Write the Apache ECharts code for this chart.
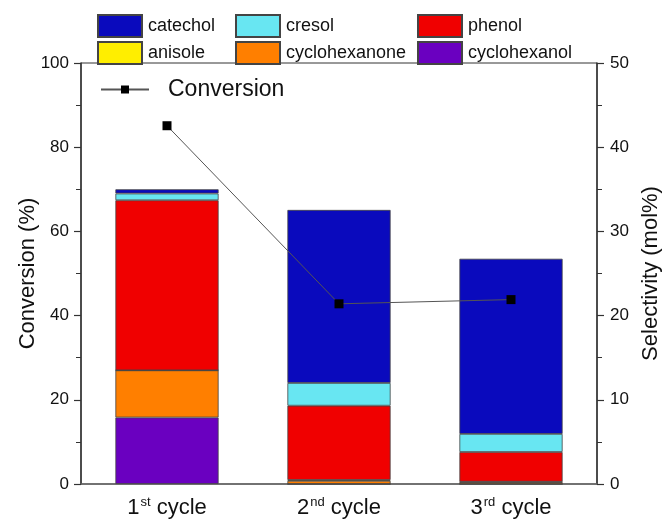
<!DOCTYPE html>
<html>
<head>
<meta charset="utf-8">
<script src="https://cdn.jsdelivr.net/npm/echarts@6/dist/echarts.min.js"></script>
<style>
  html, body { margin: 0; padding: 0; background: #fff; }
  #chart { width: 670px; height: 521px; }
</style>
</head>
<body>
<div id="chart"></div>
<script>
// Reaction cycles
const cycles = ['1st cycle', '2nd cycle', '3rd cycle'];

// Product selectivity (mol%) per cycle
const cyclohexanol  = [7.9, 0, 0];
const cyclohexanone = [5.6, 0.38, 0.22];
const anisole       = [0, 0.1, 0.05];
const phenol        = [20.2, 8.82, 3.53];
const cresol        = [0.8, 2.7, 2.15];
const catechol      = [0.5, 20.55, 20.8];

// Substrate conversion (%) per cycle
const conversion = [85.1, 42.8, 43.8];

// Axis tick labels
const leftTicks  = [0, 20, 40, 60, 80, 100];
const rightTicks = [0, 10, 20, 30, 40, 50];

const font = 'Liberation Sans, Arial, sans-serif';
const ink = '#111';

const chart = echarts.init(document.getElementById('chart'), null, { renderer: 'canvas' });

function barSeries(name, data, color) {
  return {
    name, type: 'bar', stack: 'sel', yAxisIndex: 1, data,
    barWidth: '60%',
    itemStyle: { color, borderColor: '#444', borderWidth: 0.8 },
    emphasis: { disabled: true }
  };
}

const legendText = { fontFamily: font, fontSize: 18, color: ink, padding: [0, 0, 0, 1] };
function productLegend(names, left) {
  return {
    data: names, orient: 'vertical', left, top: 14, padding: 0,
    itemWidth: 44, itemHeight: 22, itemGap: 3,
    textStyle: legendText, icon: 'rect', selectedMode: false
  };
}

chart.setOption({
  animation: false,
  backgroundColor: '#fff',
  grid: { left: 81, right: 72, top: 63, bottom: 37, show: true, borderColor: '#333', borderWidth: 1 },
  legend: [
    productLegend(['catechol', 'anisole'], 97),
    productLegend(['cresol', 'cyclohexanone'], 235),
    productLegend(['phenol', 'cyclohexanol'], 417),
    {
      data: ['Conversion'],
      left: 100, top: 78, padding: 0, itemWidth: 48, itemHeight: 10, selectedMode: false,
      textStyle: { fontFamily: font, fontSize: 23, color: ink, padding: [0, 0, 0, 14] }
    }
  ],
  xAxis: {
    type: 'category', data: cycles,
    axisLine: { lineStyle: { color: '#666', width: 1.5 } },
    axisTick: { show: false },
    axisLabel: {
      margin: 12,
      formatter: function (v) {
        const m = v.match(/^(\d)(\w\w) (.*)$/);
        return '{n|' + m[1] + '}{s|' + m[2] + '}{c| ' + m[3] + '}';
      },
      rich: {
        n: { fontFamily: font, fontSize: 22, color: ink },
        s: { fontFamily: font, fontSize: 13, color: ink, padding: [0, 0, 10, 1] },
        c: { fontFamily: font, fontSize: 22, color: ink }
      }
    }
  },
  yAxis: [
    {
      type: 'value', min: leftTicks[0], max: leftTicks[leftTicks.length - 1], interval: 20,
      name: 'Conversion (%)', nameLocation: 'middle', nameGap: 42, nameRotate: 90,
      nameMoveOverlap: false,
      nameTextStyle: { fontFamily: font, fontSize: 22, color: ink },
      axisLine: { show: true, lineStyle: { color: '#333', width: 1.5 } },
      axisTick: { show: true, length: 7, lineStyle: { color: '#333', width: 1.2 } },
      minorTick: { show: true, splitNumber: 2, length: 5, lineStyle: { color: '#333', width: 1 } },
      splitLine: { show: false },
      axisLabel: { fontFamily: font, fontSize: 17, color: ink, margin: 12 }
    },
    {
      type: 'value', min: rightTicks[0], max: rightTicks[rightTicks.length - 1], interval: 10,
      name: 'Selectivity (mol%)', nameLocation: 'middle', nameGap: 43, nameRotate: 90,
      nameTextStyle: { fontFamily: font, fontSize: 22, color: ink },
      axisLine: { show: true, lineStyle: { color: '#333', width: 1.5 } },
      axisTick: { show: true, length: 7, lineStyle: { color: '#333', width: 1.2 } },
      minorTick: { show: true, splitNumber: 2, length: 5, lineStyle: { color: '#333', width: 1 } },
      splitLine: { show: false },
      axisLabel: { fontFamily: font, fontSize: 17, color: ink, margin: 13 }
    }
  ],
  series: [
    barSeries('cyclohexanol', cyclohexanol, '#6A00C0'),
    barSeries('cyclohexanone', cyclohexanone, '#FF7F00'),
    barSeries('anisole', anisole, '#FFEE00'),
    barSeries('phenol', phenol, '#F00000'),
    barSeries('cresol', cresol, '#68E6F2'),
    barSeries('catechol', catechol, '#0A0ABD'),
    {
      name: 'Conversion', type: 'line', yAxisIndex: 0, data: conversion,
      symbol: 'rect', symbolSize: 9, z: 10,
      lineStyle: { color: '#555', width: 1 },
      itemStyle: { color: '#000' },
      emphasis: { disabled: true }
    }
  ]
});
</script>
</body>
</html>
